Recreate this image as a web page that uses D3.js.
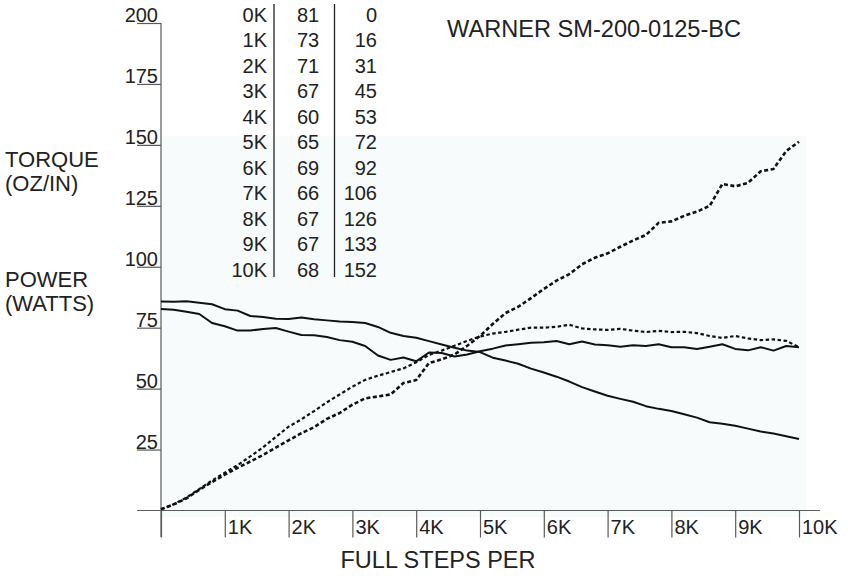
<!DOCTYPE html>
<html>
<head>
<meta charset="utf-8">
<script src="https://cdn.jsdelivr.net/npm/d3@7"></script>
<style>
  body { margin: 0; background: #ffffff; }
  svg { display: block; }
  text { font-family: "Liberation Sans", Arial, sans-serif; fill: #222; }
</style>
</head>
<body>
<svg id="chart" width="848" height="576"></svg>
<script>
// ---------------- DATA ----------------
const title = "WARNER SM-200-0125-BC";
const xAxisLabel = "FULL STEPS PER";
const torqueLabel = ["TORQUE", "(OZ/IN)"];
const powerLabel = ["POWER", "(WATTS)"];

const yTickValues = [25, 50, 75, 100, 125, 150, 175, 200];
const xTickValues = [0, 1000, 2000, 3000, 4000, 5000, 6000, 7000, 8000, 9000, 10000];
const xTickLabels = ["", "1K", "2K", "3K", "4K", "5K", "6K", "7K", "8K", "9K", "10K"];

// table
const tableSpeed  = ["0K", "1K", "2K", "3K", "4K", "5K", "6K", "7K", "8K", "9K", "10K"];
const tableTorque = [81, 73, 71, 67, 60, 65, 69, 66, 67, 67, 68];
const tablePower  = [0, 16, 31, 45, 53, 72, 92, 106, 126, 133, 152];

// curve sample positions (full steps per second)
const steps = [0, 200, 400, 600, 800, 1000, 1200, 1400, 1600, 1800, 2000, 2200, 2400, 2600, 2800, 3000,
  3200, 3400, 3600, 3800, 4000, 4200, 4400, 4600, 4800, 5000, 5200, 5400, 5600, 5800, 6000, 6200,
  6400, 6600, 6800, 7000, 7200, 7400, 7600, 7800, 8000, 8200, 8400, 8600, 8800, 9000, 9200, 9400,
  9600, 9800, 10000];

// solid curve, descending torque
const torqueA = [85.7, 85.6, 85.8, 85.2, 84.6, 82.6, 82.0, 79.8, 79.4, 78.7, 78.6, 79.2, 78.5, 78.0, 77.5, 77.3,
  76.9, 75.3, 72.9, 71.6, 70.9, 69.5, 68.1, 66.8, 65.6, 65.0, 62.7, 61.5, 60.2, 58.2, 56.6, 54.9,
  52.9, 50.6, 48.8, 47.1, 45.8, 44.6, 42.8, 41.7, 40.8, 39.5, 38.1, 36.2, 35.6, 34.8, 33.6, 32.4,
  31.6, 30.5, 29.3];

// solid curve, flattening torque
const torqueB = [82.7, 82.4, 81.5, 80.6, 76.9, 75.6, 73.8, 73.8, 74.5, 74.9, 73.4, 72.0, 71.9, 71.2, 69.9, 69.2,
  67.5, 63.6, 61.8, 62.8, 61.2, 64.8, 64.6, 63.2, 64.0, 65.3, 66.4, 67.7, 68.2, 68.8, 69.0, 69.5,
  68.2, 69.3, 68.1, 67.8, 67.2, 67.8, 67.5, 68.2, 67.0, 67.0, 66.3, 67.2, 68.2, 66.3, 65.7, 67.0,
  65.6, 67.5, 67.0];

// dashed curve, rising power
const powerA = [0.5, 2.5, 5.0, 8.5, 11.7, 14.7, 17.5, 20.1, 22.8, 25.8, 28.8, 31.7, 34.2, 37.6, 40.0, 43.4,
  46.0, 46.8, 47.6, 52.3, 53.5, 60.5, 62.0, 64.0, 67.6, 71.6, 76.5, 81.0, 83.6, 87.1, 90.9, 94.3,
  97.0, 101.0, 103.7, 105.5, 108.2, 110.8, 113.0, 118.0, 118.6, 120.9, 122.6, 125.0, 134.0, 133.0, 134.4, 139.2,
  140.1, 147.5, 151.3];

// dashed curve, flattening power
const powerB = [0.5, 2.6, 5.3, 8.8, 12.3, 15.5, 18.6, 22.2, 25.9, 30.2, 34.4, 37.4, 40.8, 44.4, 47.6, 50.8,
  53.6, 55.3, 56.8, 58.3, 60.8, 63.8, 65.6, 67.6, 69.6, 71.4, 72.6, 73.3, 74.2, 75.0, 75.0, 75.4,
  76.2, 74.7, 74.3, 74.1, 74.5, 73.8, 73.2, 73.7, 73.2, 73.3, 72.8, 71.6, 70.8, 71.6, 70.6, 69.9,
  70.2, 69.6, 67.0];

// ---------------- CHART ----------------
const svg = d3.select("#chart");
const x = d3.scaleLinear().domain([0, 10000]).range([161, 799]);
const y = d3.scaleLinear().domain([0, 200]).range([510.5, 23]);
const axisColor = "#5a5a5a";

// faint plot background
svg.append("rect")
  .attr("x", 161).attr("y", 136).attr("width", 645).attr("height", 381)
  .attr("fill", "#f8fbfb");

// Title
svg.append("text").attr("x", 447).attr("y", 36.5)
  .attr("font-size", 23.6).text(title);

// Left labels (two lines each)
function twoLine(lines, x0, y0, gap) {
  const g = svg.append("g").attr("font-size", 22);
  g.append("text").attr("x", x0).attr("y", y0).text(lines[0]);
  g.append("text").attr("x", x0).attr("y", y0 + gap).text(lines[1]);
}
twoLine(torqueLabel, 5, 166.5, 24.8);
twoLine(powerLabel, 5, 286.5, 24.8);

// Y axis
const yAxis = d3.axisLeft(y).tickValues(yTickValues).tickSize(24).tickFormat(d3.format("d"));
const gy = svg.append("g").attr("transform", "translate(161,0)").call(yAxis);
gy.select(".domain").remove();
gy.selectAll(".tick line").attr("stroke", axisColor).attr("stroke-width", 1.2);
gy.selectAll(".tick text")
  .attr("x", -3).attr("y", -1.5).attr("dy", null)
  .attr("font-size", 20).attr("font-family", "Liberation Sans, Arial, sans-serif")
  .attr("fill", "#222");
svg.append("line").attr("x1", 161).attr("x2", 161).attr("y1", y(200)).attr("y2", 537)
  .attr("stroke", axisColor).attr("stroke-width", 1.2);

// X axis
const xAxis = d3.axisBottom(x).tickValues(xTickValues).tickSize(27)
  .tickFormat((d, i) => xTickLabels[i]);
const gx = svg.append("g").attr("transform", `translate(0,${y(0)})`).call(xAxis);
gx.select(".domain").remove();
gx.selectAll(".tick line").attr("stroke", axisColor).attr("stroke-width", 1.2);
gx.selectAll(".tick text")
  .attr("x", 2.5).attr("y", 23).attr("dy", null)
  .attr("text-anchor", "start")
  .attr("font-size", 20).attr("font-family", "Liberation Sans, Arial, sans-serif")
  .attr("fill", "#222");
svg.append("line").attr("x1", 137).attr("x2", 820).attr("y1", y(0)).attr("y2", y(0))
  .attr("stroke", axisColor).attr("stroke-width", 1.2);

// X label
svg.append("text").attr("x", 438).attr("y", 568).attr("text-anchor", "middle")
  .attr("font-size", 23.5).text(xAxisLabel);

// Table
const rowY = i => 21.5 + i * 25.55;
const tbl = svg.append("g").attr("font-size", 20);
tbl.selectAll("text.c1").data(tableSpeed).join("text").attr("class", "c1")
  .attr("x", 267).attr("y", (d, i) => rowY(i)).attr("text-anchor", "end").text(d => d);
tbl.selectAll("text.c2").data(tableTorque).join("text").attr("class", "c2")
  .attr("x", 308).attr("y", (d, i) => rowY(i)).attr("text-anchor", "middle").text(d => d);
tbl.selectAll("text.c3").data(tablePower).join("text").attr("class", "c3")
  .attr("x", 377).attr("y", (d, i) => rowY(i)).attr("text-anchor", "end").text(d => d);
[274, 334.5].forEach(px => {
  tbl.append("line").attr("x1", px).attr("x2", px).attr("y1", 4).attr("y2", 277)
    .attr("stroke", "#222").attr("stroke-width", 1.3);
});

// Curves
const line = d3.line().x((d, i) => x(steps[i])).y(d => y(d)).curve(d3.curveLinear);
const curves = [
  { v: torqueA, dash: null, w: 2.0 },
  { v: torqueB, dash: null, w: 2.0 },
  { v: powerA, dash: "4,2.5", w: 2.6 },
  { v: powerB, dash: "3.5,2.5", w: 2.2 }
];
svg.append("g").selectAll("path").data(curves).join("path")
  .attr("d", d => line(d.v))
  .attr("fill", "none")
  .attr("stroke", "#111")
  .attr("stroke-width", d => d.w)
  .attr("stroke-dasharray", d => d.dash)
  .attr("stroke-linejoin", "round");
</script>
</body>
</html>
